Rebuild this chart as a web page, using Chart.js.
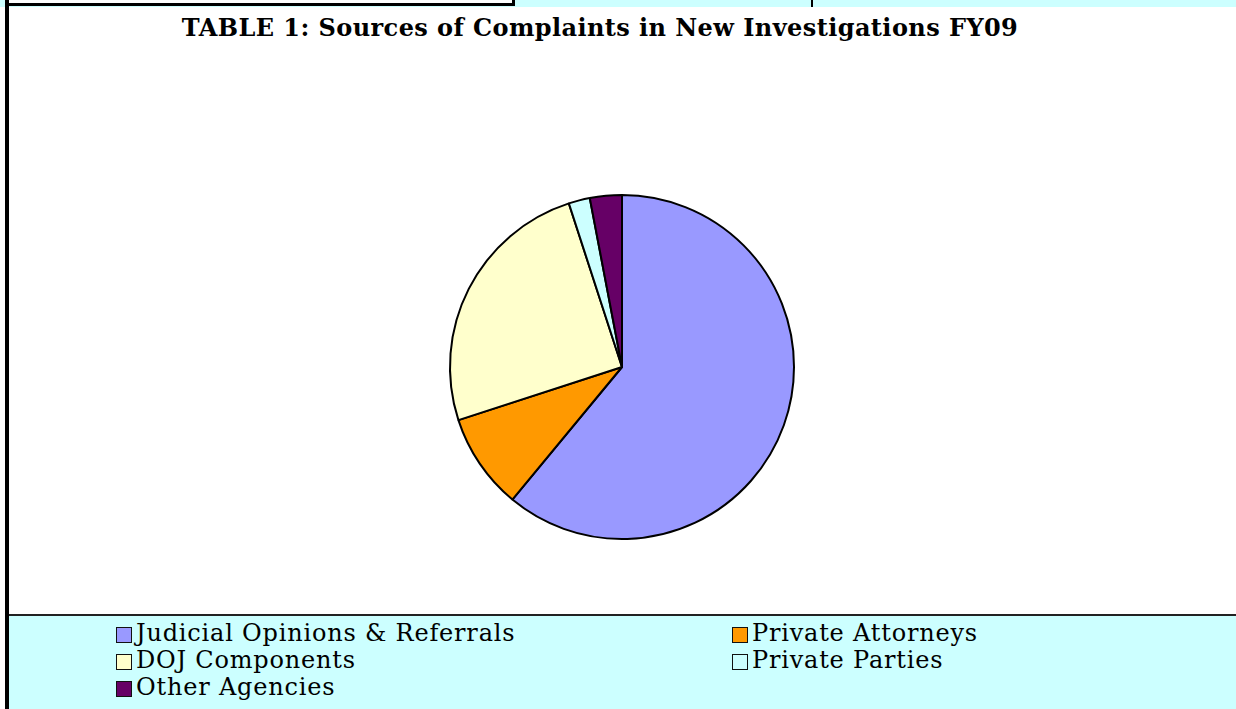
<!DOCTYPE html>
<html>
<head>
<meta charset="utf-8">
<script src="https://cdn.jsdelivr.net/npm/chart.js@4/dist/chart.umd.min.js"></script>
<style>
  html, body { margin: 0; padding: 0; }
  body { width: 1236px; height: 709px; position: relative; overflow: hidden; background: #fff; }
  .topcyan { position: absolute; left: 0; top: 0; width: 1236px; height: 7px; background: #ccffff; }
  .topbox { position: absolute; left: 6px; top: -3px; width: 503px; height: 6px; border: 3px solid #000; border-top: none; background: #fff; }
  .topsep { position: absolute; left: 811px; top: 0; width: 2px; height: 7px; background: #000; }
  .leftbar { position: absolute; left: 5px; top: 0; width: 4px; height: 709px; background: #000; }
  .title { position: absolute; left: 0; top: 13px; width: 1200px; text-align: center;
           font: bold 24px "DejaVu Serif", serif; letter-spacing: 0.42px; color: #000; }
  .chartbox { position: absolute; left: 441px; top: 186px; width: 362px; height: 362px; }
  .legend { position: absolute; left: 9px; top: 614px; width: 1227px; height: 95px;
            background: #ccffff; border-top: 2px solid #222; }
  .item { position: absolute; font: 24px "DejaVu Serif", serif; letter-spacing: 0.8px; color: #000; white-space: nowrap; line-height: 27px; }
  .item span.sw { display: inline-block; width: 14px; height: 14px; border: 1.5px solid #111;
                  margin-right: 4px; vertical-align: -2px; }
</style>
</head>
<body>
<div class="topcyan"></div>
<div class="topbox"></div>
<div class="topsep"></div>
<div class="title">TABLE 1: Sources of Complaints in New Investigations FY09</div>
<div class="chartbox"><canvas id="pie" width="362" height="362"></canvas></div>
<div class="legend" id="legend"></div>
<div class="leftbar"></div>
<script>
const categories = ['Judicial Opinions & Referrals', 'Private Attorneys', 'DOJ Components', 'Private Parties', 'Other Agencies'];
const values = [61, 9, 25, 2, 3];
const colors = ['#9999ff', '#ff9900', '#ffffcc', '#ccffff', '#660066'];
// orden del legend: dos columnas, como en el original
const legendOrder = [0, 1, 2, 3, 4];

new Chart(document.getElementById('pie'), {
    type: 'pie',
    data: {
        labels: categories,
        datasets: [{
            data: values,
            backgroundColor: colors,
            borderColor: '#000',
            borderWidth: 2,
            hoverOffset: 0
        }]
    },
    options: {
        responsive: false,
        animation: false,
        layout: { padding: 8 },
        plugins: {
            legend: { display: false },
            tooltip: { enabled: false }
        }
    }
});

// Leyenda en HTML
const legend = document.getElementById('legend');
legendOrder.forEach(function (i, k) {
    const col = k % 2;
    const row = Math.floor(k / 2);
    const div = document.createElement('div');
    div.className = 'item';
    div.style.left = (col === 0 ? 107 : 723) + 'px';
    div.style.top = (4 + row * 27) + 'px';
    div.innerHTML = '<span class="sw" style="background:' + colors[i] + '"></span>' + categories[i].replace('&', '&amp;');
    legend.appendChild(div);
});
</script>
</body>
</html>
